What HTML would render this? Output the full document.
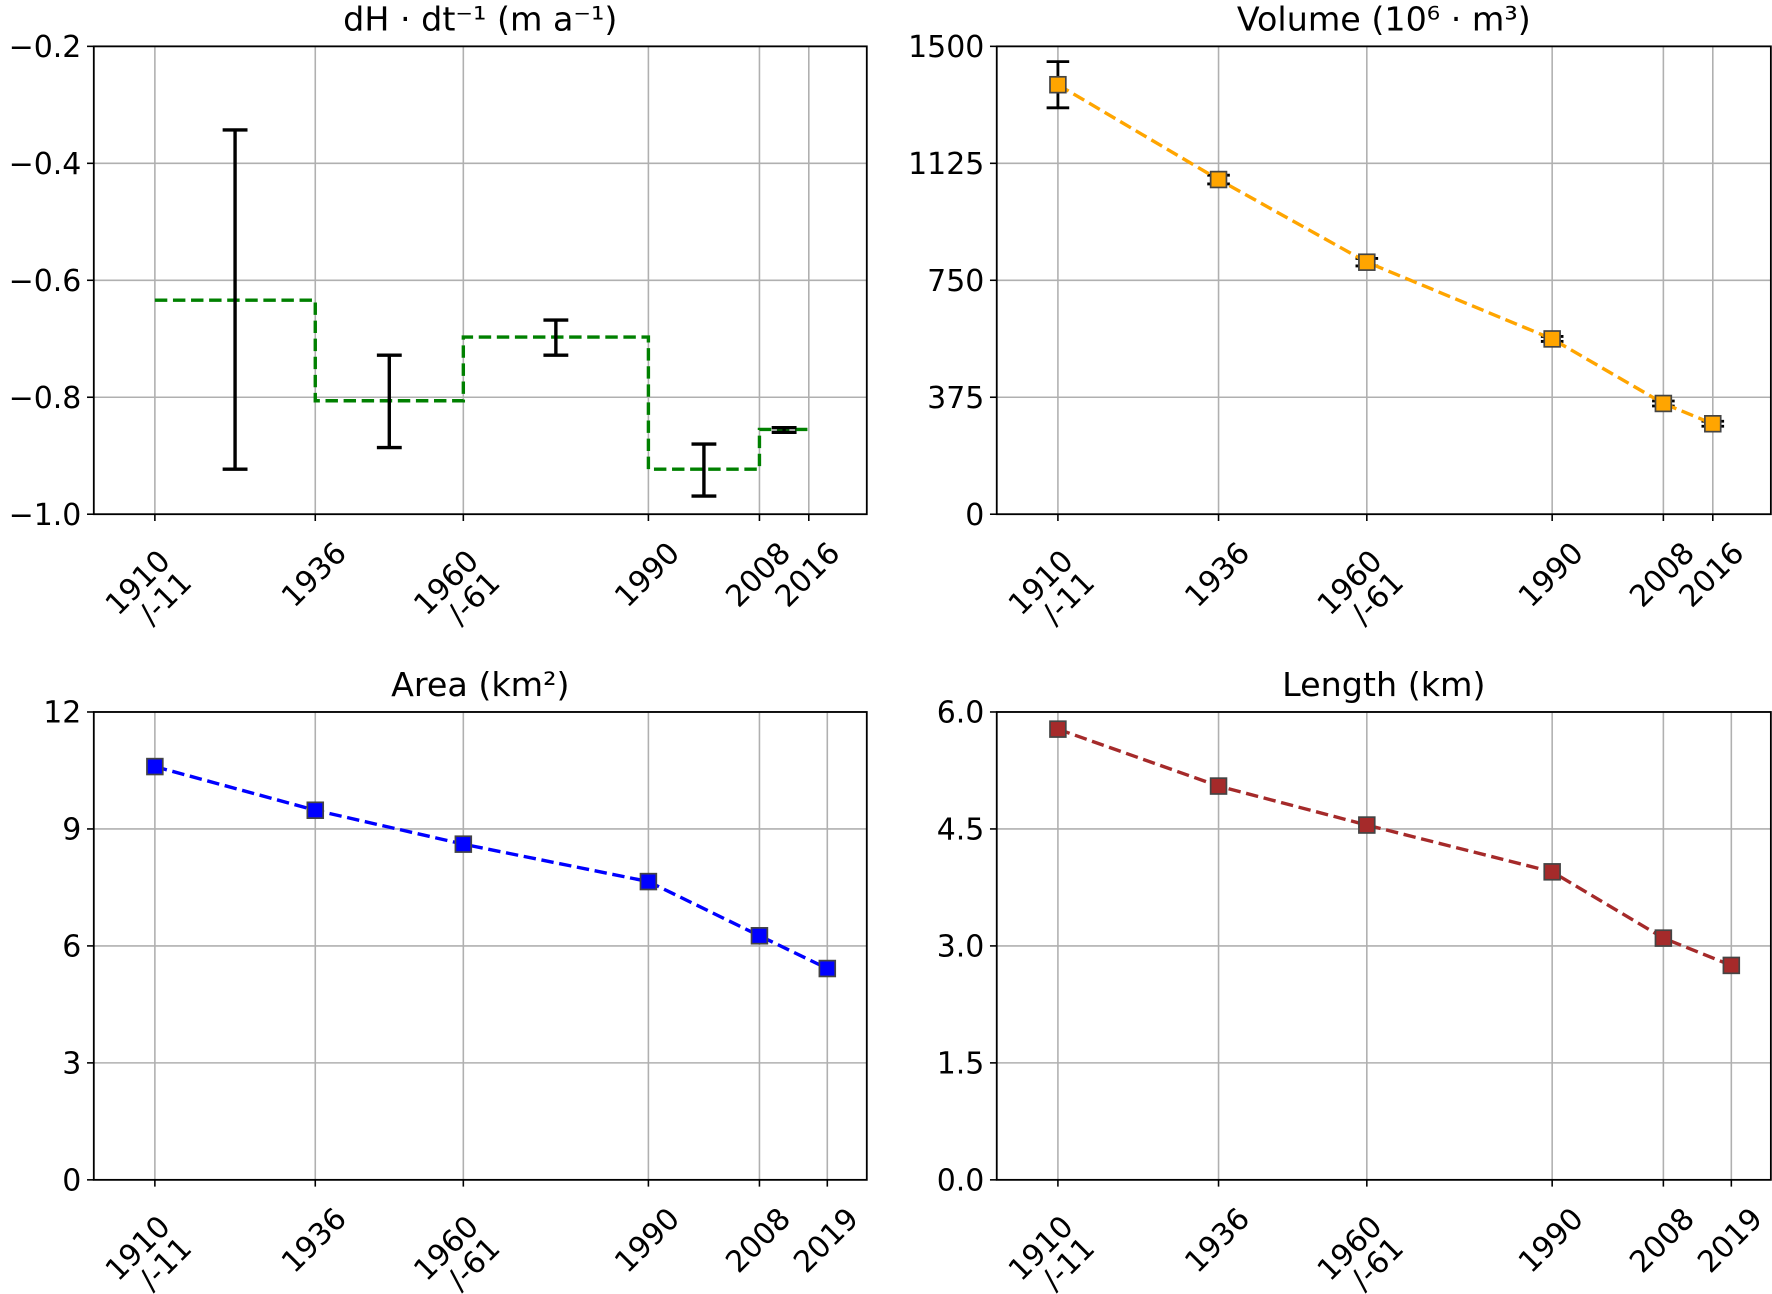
<!DOCTYPE html>
<html><head><meta charset="utf-8"><style>
html,body{margin:0;padding:0;background:#fff;}
svg{display:block;font-family:"DejaVu Sans","Liberation Sans",sans-serif;}
</style></head><body>
<svg id="fig" width="1772" height="1294" viewBox="0 0 1568 1145" xmlns="http://www.w3.org/2000/svg"></svg>
<script>
// ---- data ----
const tickYears = [1910, 1936, 1960, 1990, 2008, 2016];
const tickYearsB = [1910, 1936, 1960, 1990, 2008, 2019];
const tickLabelsTop = [["1910","/-11"],["1936"],["1960","/-61"],["1990"],["2008"],["2016"]];
const tickLabelsBot = [["1910","/-11"],["1936"],["1960","/-61"],["1990"],["2008"],["2019"]];
// dH/dt step segments
const dhStart = [1910, 1936, 1960, 1990, 2008];
const dhEnd   = [1936, 1960, 1990, 2008, 2016];
const dhValue = [-0.634, -0.806, -0.697, -0.923, -0.855];
const dhErrYear = [1923, 1948, 1975, 1999, 2012];
const dhErrLow  = [-0.923, -0.886, -0.728, -0.969, -0.860];
const dhErrHigh = [-0.343, -0.728, -0.668, -0.880, -0.852];
const dhTicks = [-1.0, -0.8, -0.6, -0.4, -0.2];
// volume
const volYears = [1910, 1936, 1960, 1990, 2008, 2016];
const volValues = [1377, 1073, 808, 562, 355, 290];
const volErr = [74, 14, 12, 8, 8, 8];
const volTicks = [0, 375, 750, 1125, 1500];
// area
const areaYears = [1910, 1936, 1960, 1990, 2008, 2019];
const areaValues = [10.6, 9.48, 8.61, 7.65, 6.26, 5.42];
const areaTicks = [0, 3, 6, 9, 12];
// length
const lenYears = [1910, 1936, 1960, 1990, 2008, 2019];
const lenValues = [5.78, 5.05, 4.55, 3.95, 3.10, 2.75];
const lenTicks = [0.0, 1.5, 3.0, 4.5, 6.0];

const NS = "http://www.w3.org/2000/svg";
const svg = document.getElementById('fig');
function mk(tag, attrs, parent, text){
  const e = document.createElementNS(NS, tag);
  for (const k in attrs) e.setAttribute(k, attrs[k]);
  if (text !== undefined) e.textContent = text;
  (parent||svg).appendChild(e);
  return e;
}
const X0 = 1900.1, X1 = 2025.4;
const TF = 26.5;
function makeAxes(name, left, top, w, h, ymin, ymax, yticks, yfmt, title, xt, xl){
  const g = mk('g', {});
  
  
  const sx = v => left + (v - X0) / (X1 - X0) * w;
  const sy = v => top + h - (v - ymin) / (ymax - ymin) * h;
  xt.forEach(t => {
    const l = mk('line', {x1:sx(t), x2:sx(t), y1:top, y2:top+h, stroke:'#b0b0b0', 'stroke-width':1.4}, g);
    
    
  });
  yticks.forEach(t => {
    const l = mk('line', {x1:left, x2:left+w, y1:sy(t), y2:sy(t), stroke:'#b0b0b0', 'stroke-width':1.4}, g);
    
    
    mk('line', {x1:left-6, x2:left, y1:sy(t), y2:sy(t), stroke:'#000', 'stroke-width':1.4}, g);
    const tx = mk('text', {x:left-11, y:sy(t)+9.5, 'text-anchor':'end', 'font-size':TF}, g, yfmt(t));
    
    
  });
  xt.forEach((t, i) => {
    const x = sx(t);
    mk('line', {x1:x, x2:x, y1:top+h, y2:top+h+6, stroke:'#000', 'stroke-width':1.4}, g);
    const lab = xl[i];
    if (lab.length === 1){
      const tx = mk('text', {transform:`translate(${x+29},${top+h+36}) rotate(-45)`, 'text-anchor':'end', 'font-size':TF}, g, lab[0]);
      
      
    } else {
      const tx = mk('text', {transform:`translate(${x+15},${top+h+43}) rotate(-45)`, 'text-anchor':'end', 'font-size':TF}, g, lab[0]);
      
      
      const tx2 = mk('text', {transform:`translate(${x+34},${top+h+62}) rotate(-45)`, 'text-anchor':'end', 'font-size':TF}, g, lab[1]);
      
      
    }
  });
  const tt = mk('text', {x:left+w/2, y:top-14, 'text-anchor':'middle', 'font-size':29.5}, g, title);
  
  
  return {g, sx, sy, left, top, w, h};
}
function frame(ax){
  const r = mk('rect', {x:ax.left, y:ax.top, width:ax.w, height:ax.h, fill:'none', stroke:'#000', 'stroke-width':1.6}, ax.g);
  
  
}
function errbar(ax, x, lo, hi, cap, sw){
  const g = mk('g', {stroke:'#000', 'stroke-width':sw}, ax.g);
  
  
  const px = ax.sx(x);
  mk('line', {x1:px, x2:px, y1:ax.sy(lo), y2:ax.sy(hi)}, g);
  mk('line', {x1:px-cap, x2:px+cap, y1:ax.sy(lo), y2:ax.sy(lo)}, g);
  mk('line', {x1:px-cap, x2:px+cap, y1:ax.sy(hi), y2:ax.sy(hi)}, g);
}
function series(ax, xs, ys, color, name){
  const pts = xs.map((x,i)=>ax.sx(x)+','+ax.sy(ys[i])).join(' ');
  const pl = mk('polyline', {points:pts, fill:'none', stroke:color, 'stroke-width':3, 'stroke-dasharray':'11,5'}, ax.g);
  
  
  xs.forEach((x,i)=>{
    const r = mk('rect', {x:ax.sx(x)-7, y:ax.sy(ys[i])-7, width:14, height:14, fill:color, stroke:'#444', 'stroke-width':1.5}, ax.g);
    
    
  });
}

const a1 = makeAxes('dhdt-panel', 83, 41, 684, 414, -1.0, -0.2, dhTicks, v=>'\u2212'+Math.abs(v).toFixed(1), 'dH \u00b7 dt\u207b\u00b9 (m a\u207b\u00b9)', tickYears, tickLabelsTop);
{
  let d = '';
  dhStart.forEach((s,i)=>{
    const y = a1.sy(dhValue[i]);
    if (i===0) d += `M${a1.sx(s)},${y}`; else d += `L${a1.sx(s)},${y}`;
    d += `L${a1.sx(dhEnd[i])},${y}`;
  });
  const p = mk('path', {d, fill:'none', stroke:'#008000', 'stroke-width':3, 'stroke-dasharray':'11,5'}, a1.g);
  
  
  dhErrYear.forEach((x,i)=>errbar(a1, x, dhErrLow[i], dhErrHigh[i], 11, 3));
}
frame(a1);

const a2 = makeAxes('volume-panel', 882, 41, 685, 414, 0, 1500, volTicks, v=>String(v), 'Volume (10\u2076 \u00b7 m\u00b3)', tickYears, tickLabelsTop);
volYears.forEach((x,i)=>errbar(a2, x, volValues[i]-volErr[i], volValues[i]+volErr[i], 10, 2.5));
series(a2, volYears, volValues, '#ffa500', 'volume');
frame(a2);

const a3 = makeAxes('area-panel', 83, 630, 684, 414, 0, 12, areaTicks, v=>String(v), 'Area (km\u00b2)', tickYearsB, tickLabelsBot);
series(a3, areaYears, areaValues, '#0000ff', 'area');
frame(a3);

const a4 = makeAxes('length-panel', 882, 630, 685, 414, 0, 6, lenTicks, v=>v.toFixed(1), 'Length (km)', tickYearsB, tickLabelsBot);
series(a4, lenYears, lenValues, '#a52a2a', 'length');
frame(a4);
</script>
</body></html>
